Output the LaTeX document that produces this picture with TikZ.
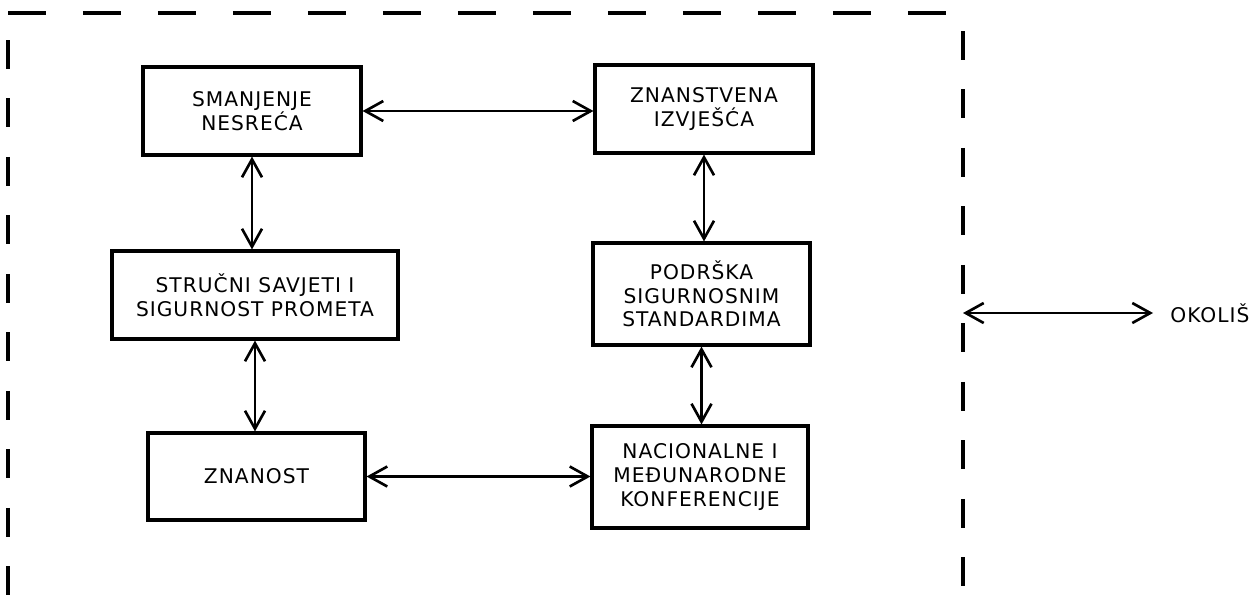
\documentclass[tikz,border=0pt]{standalone}
\usepackage{fontspec}
\usepackage{tikz}
\usetikzlibrary{arrows.meta}
\newfontfamily\blokfont[LetterSpace=5]{DejaVu Sans}

\begin{document}
\begin{tikzpicture}[x=0.02cm,y=-0.02cm,
  >={Straight Barb[length=3.6mm,width=4mm]},
  blok/.style={draw,line width=1.8pt,align=center,inner sep=0pt,
    font=\blokfont\fontsize{11.5}{13.5}\selectfont},
  veza/.style={<->,line width=1.5pt},
  granica/.style={line width=1.8pt}]
\useasboundingbox (0,0) rectangle (1258,613);
% granica sustava
\draw[granica,dash pattern=on 0.76cm off 0.74cm] (8,13) -- (948,13);
\draw[granica,dash pattern=on 0.58cm off 0.59cm] (8,40) -- (8,597);
\draw[granica,dash pattern=on 0.58cm off 0.59cm] (963,31) -- (963,590);
% blokovi
\node[blok,minimum width=4.36cm,minimum height=1.76cm] (b1) at (252,111) {SMANJENJE\\NESREĆA};
\node[blok,minimum width=4.36cm,minimum height=1.76cm] (b2) at (704,109) {ZNANSTVENA\\IZVJEŠĆA};
\node[blok,minimum width=5.72cm,minimum height=1.76cm] (b3) at (255,295) {STRUČNI SAVJETI I\\SIGURNOST PROMETA};
\node[blok,minimum width=4.34cm,minimum height=2.04cm] (b4) at (701.5,294) {PODRŠKA\\SIGURNOSNIM\\STANDARDIMA};
\node[blok,minimum width=4.34cm,minimum height=1.74cm] (b5) at (256.5,476.5) {ZNANOST};
\node[blok,minimum width=4.32cm,minimum height=2.04cm] (b6) at (700,477) {NACIONALNE I\\MEĐUNARODNE\\KONFERENCIJE};
\node[inner sep=0pt,anchor=west,font=\blokfont\fontsize{11.5}{13.5}\selectfont] (okolis) at (1170,313) {OKOLIŠ};
\coordinate (rub) at (963,313);
% veze
\draw[veza] (b1.east) -- (b1.east -| b2.west);
\draw[veza] (b1.south) -- (b1.south |- b3.north);
\draw[veza] (b3.south) -- (b3.south |- b5.north);
\draw[veza] (b5.east) -- (b5.east -| b6.west);
\draw[veza] (b2.south) -- (b2.south |- b4.north);
\draw[veza] (b4.south) -- (b4.south |- b6.north);
\draw[veza] (rub) -- ([xshift=-0.34cm]okolis.west);
\end{tikzpicture}
\end{document}
